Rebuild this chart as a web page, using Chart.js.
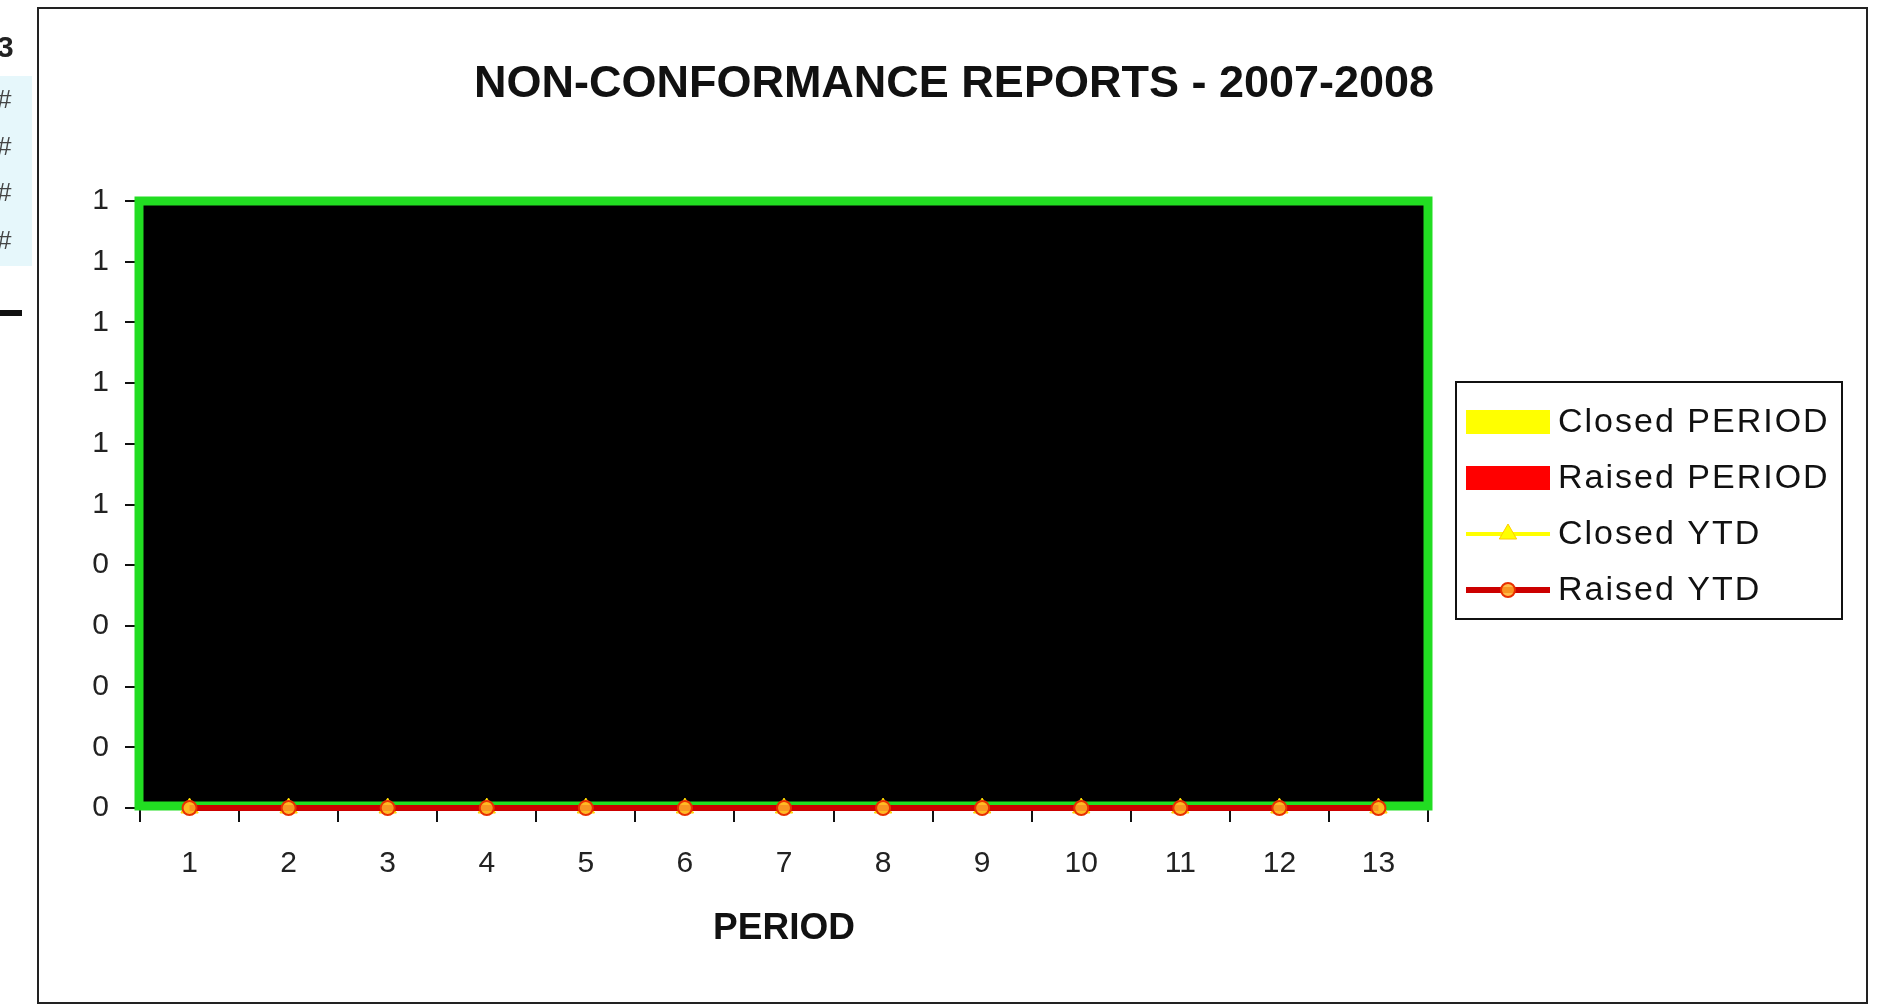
<!DOCTYPE html>
<html>
<head>
<meta charset="utf-8">
<title>Non-conformance reports 2007-2008</title>
<script src="https://cdn.jsdelivr.net/npm/chart.js@4.4.1/dist/chart.umd.min.js"></script>
<style>
  html, body { margin: 0; padding: 0; background: #fff; overflow: hidden; }
  #wrap { position: relative; width: 1881px; height: 1007px; }
  #chart { position: absolute; left: 0; top: 0; }
  .cells { position: absolute; left: 0; top: 76px; width: 32px; height: 190px; background: #e6f7fb; }
  .cell { position: absolute; left: -3px; font: 26px "Liberation Sans", Arial, sans-serif; color: #444; }
  .dash { position: absolute; left: 0; top: 310px; width: 22px; height: 6px; background: #111; }
</style>
</head>
<body>
<div id="wrap">
  <canvas id="chart" width="1881" height="1007"></canvas>
  <div class="cells"></div>
  <div class="cell" style="top:30px;font-weight:bold;font-size:30px;color:#222;">3</div>
  <div class="cell" style="top:84px;">#</div>
  <div class="cell" style="top:131px;">#</div>
  <div class="cell" style="top:177px;">#</div>
  <div class="cell" style="top:225px;">#</div>
  <div class="dash"></div>
</div>
<script>
// data: every period is zero
const periods = ['1', '2', '3', '4', '5', '6', '7', '8', '9', '10', '11', '12', '13'];
const closedPeriod = [0, 0, 0, 0, 0, 0, 0, 0, 0, 0, 0, 0, 0];
const raisedPeriod = [0, 0, 0, 0, 0, 0, 0, 0, 0, 0, 0, 0, 0];
const closedYtd = [0, 0, 0, 0, 0, 0, 0, 0, 0, 0, 0, 0, 0];
const raisedYtd = [0, 0, 0, 0, 0, 0, 0, 0, 0, 0, 0, 0, 0];

// y axis 0..1 in steps of 0.1, labels shown rounded (bottom to top)
const yMin = 0;
const yMax = 1;
const yStep = 0.1;
const yTickLabels = ['0', '0', '0', '0', '0', '1', '1', '1', '1', '1', '1'];

const fontName = '"Liberation Sans", Arial, sans-serif';

// white page, outer chart border, black plot area
const pageFrame = {
    id: 'pageFrame',
    beforeDraw(chart) {
        const ctx = chart.ctx;
        const a = chart.chartArea;
        ctx.save();
        ctx.fillStyle = '#fff';
        ctx.fillRect(0, 0, chart.width, chart.height);
        ctx.strokeStyle = '#222';
        ctx.lineWidth = 2;
        ctx.strokeRect(38, 8, 1829, 995);
        ctx.fillStyle = '#000';
        ctx.fillRect(a.left, a.top, a.right - a.left, a.bottom - a.top);
        ctx.restore();
    }
};

// green frame around the plot area
const plotFrame = {
    id: 'plotFrame',
    beforeDatasetsDraw(chart) {
        const ctx = chart.ctx;
        const a = chart.chartArea;
        ctx.save();
        ctx.strokeStyle = '#22dd22';
        ctx.lineWidth = 9;
        ctx.strokeRect(a.left - 1, a.top, a.right - a.left + 1, a.bottom - a.top - 2);
        ctx.restore();
    }
};

// boxed legend on the right, built from the datasets
const boxLegend = {
    id: 'boxLegend',
    afterDraw(chart) {
        const ctx = chart.ctx;
        const box = {x: 1456, y: 382, w: 386, h: 237};
        ctx.save();
        ctx.fillStyle = '#fff';
        ctx.fillRect(box.x, box.y, box.w, box.h);
        ctx.strokeStyle = '#111';
        ctx.lineWidth = 2;
        ctx.strokeRect(box.x, box.y, box.w, box.h);
        ctx.font = '34px ' + fontName;
        ctx.letterSpacing = '2px';
        ctx.textBaseline = 'middle';
        chart.data.datasets.forEach((ds, i) => {
            const y = box.y + 40 + i * 56;
            const x0 = box.x + 10;
            const x1 = box.x + 94;
            if (ds.type === 'line') {
                ctx.strokeStyle = ds.borderColor;
                ctx.lineWidth = ds.borderWidth;
                ctx.beginPath();
                ctx.moveTo(x0, y);
                ctx.lineTo(x1, y);
                ctx.stroke();
                ctx.fillStyle = ds.pointBackgroundColor;
                ctx.strokeStyle = ds.pointBorderColor;
                ctx.lineWidth = ds.pointBorderWidth;
                Chart.helpers.drawPoint(ctx, {pointStyle: ds.pointStyle, radius: ds.pointRadius, borderWidth: ds.pointBorderWidth}, (x0 + x1) / 2, y);
            } else {
                ctx.fillStyle = ds.backgroundColor;
                ctx.fillRect(x0, y - 12, x1 - x0, 24);
            }
            ctx.fillStyle = '#111';
            ctx.fillText(ds.label, x1 + 8, y + 1);
        });
        ctx.restore();
    }
};

const ncrChart = new Chart(document.getElementById('chart'), {
    type: 'bar',
    data: {
        labels: periods,
        datasets: [
            {
                label: 'Closed PERIOD',
                data: closedPeriod,
                backgroundColor: '#ffff00',
                borderWidth: 0,
                order: 3
            },
            {
                label: 'Raised PERIOD',
                data: raisedPeriod,
                backgroundColor: '#ff0000',
                borderWidth: 0,
                order: 2
            },
            {
                type: 'line',
                label: 'Closed YTD',
                data: closedYtd,
                borderColor: '#ffff00',
                borderWidth: 4,
                pointStyle: 'triangle',
                pointRadius: 10,
                pointBackgroundColor: '#ffff00',
                pointBorderColor: '#ffcc00',
                pointBorderWidth: 1,
                clip: false,
                order: 1
            },
            {
                type: 'line',
                label: 'Raised YTD',
                data: raisedYtd,
                borderColor: '#cc0000',
                borderWidth: 6,
                pointStyle: 'circle',
                pointRadius: 7,
                pointBackgroundColor: 'rgba(255, 175, 40, 0.85)',
                pointBorderColor: '#e83000',
                pointBorderWidth: 2,
                clip: false,
                order: 0
            }
        ]
    },
    options: {
        responsive: false,
        animation: false,
        events: [],
        layout: {
            padding: {left: 40, right: 13, top: 10, bottom: 40}
        },
        scales: {
            x: {
                grid: {
                    display: true,
                    drawOnChartArea: false,
                    drawTicks: true,
                    tickLength: 14,
                    color: '#111',
                    lineWidth: 2
                },
                border: {display: false},
                ticks: {
                    color: '#222',
                    padding: 24,
                    font: {family: fontName, size: 30}
                },
                title: {
                    display: true,
                    text: 'PERIOD',
                    color: '#111',
                    padding: {top: 0, bottom: 16},
                    font: {family: fontName, size: 37, weight: 'bold'}
                },
                afterFit(scale) {
                    scale.height = 159;
                }
            },
            y: {
                min: yMin,
                max: yMax,
                grid: {
                    display: true,
                    drawOnChartArea: false,
                    drawTicks: true,
                    tickLength: 15,
                    color: '#111',
                    lineWidth: 2
                },
                border: {display: false},
                ticks: {
                    stepSize: yStep,
                    color: '#222',
                    padding: 16,
                    font: {family: fontName, size: 30},
                    callback: function(value, index) {
                        return yTickLabels[index];
                    }
                },
                afterFit(scale) {
                    scale.width = 100;
                }
            },
            // empty right-hand axis that keeps room for the legend
            spacer: {
                position: 'right',
                display: true,
                grid: {display: false},
                border: {display: false},
                ticks: {display: false},
                afterFit(scale) {
                    scale.width = 440;
                }
            }
        },
        plugins: {
            legend: {display: false},
            tooltip: {enabled: false},
            title: {
                display: true,
                text: 'NON-CONFORMANCE REPORTS - 2007-2008',
                color: '#111',
                padding: {top: 48, bottom: 89},
                font: {family: fontName, size: 45, weight: 'bold'}
            }
        }
    },
    plugins: [pageFrame, plotFrame, boxLegend]
});
</script>
</body>
</html>
